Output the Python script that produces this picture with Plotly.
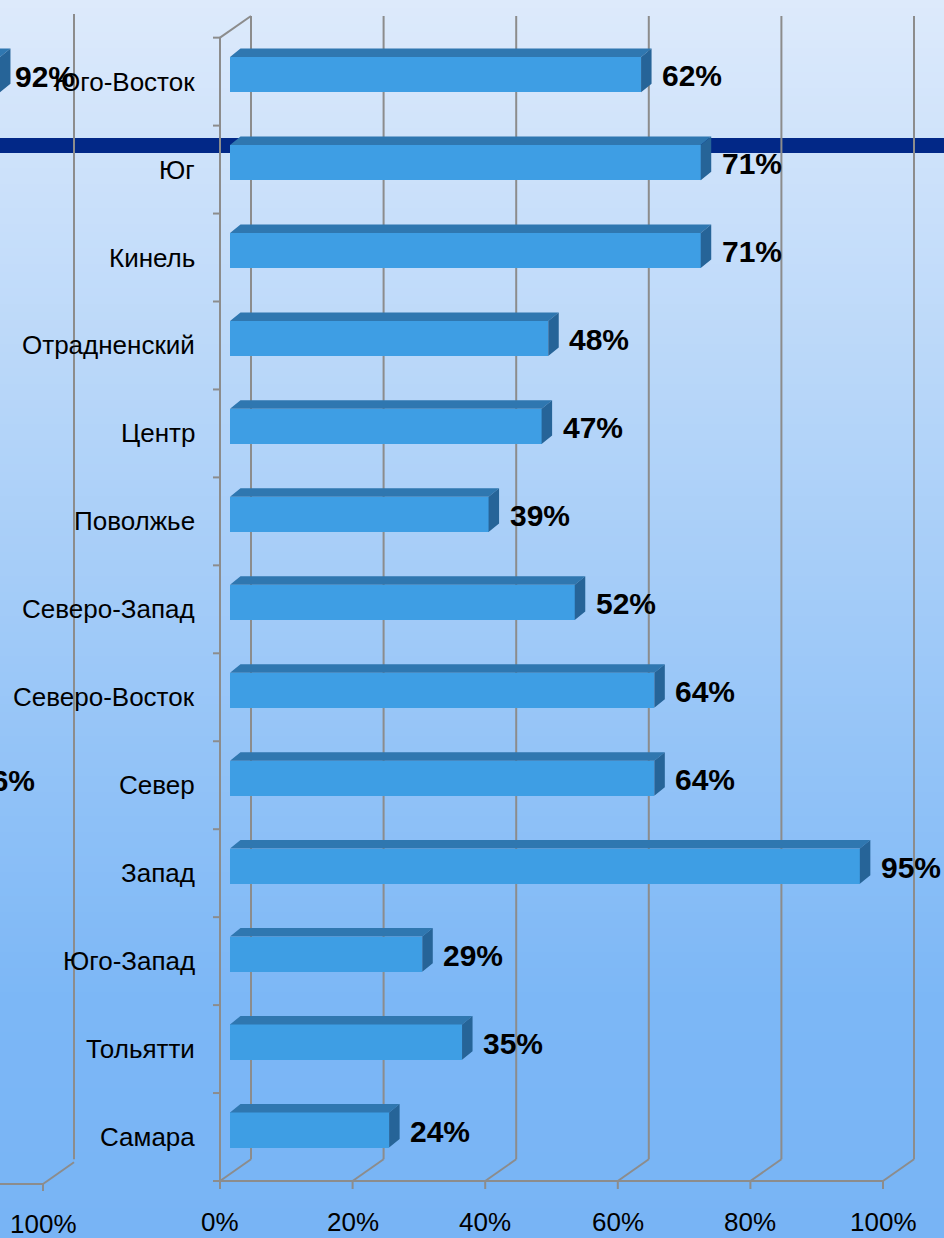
import plotly.graph_objects as go

# ---------------- data ----------------
categories = ["Юго-Восток", "Юг", "Кинель", "Отрадненский", "Центр", "Поволжье",
              "Северо-Запад", "Северо-Восток", "Север", "Запад", "Юго-Запад",
              "Тольятти", "Самара"]
values = [62, 71, 71, 48, 47, 39, 52, 64, 64, 95, 29, 35, 24]
tick_values = [0, 20, 40, 60, 80, 100]
tick_labels = ["0%", "20%", "40%", "60%", "80%", "100%"]

# neighbouring chart, only its right edge is visible at the left border
left_categories = ["Юго-Восток", "Север"]
left_values = [92, 86]
left_tick_values = [100]
left_tick_labels = ["100%"]

# ---------------- geometry / style ----------------
W, H = 944, 1238
PXX = 6.63          # pixels per percent
PXY = 87.95         # pixels per category slot
X0_PX = 230         # pixel of 0 % in the bar plane
FLOOR_PX = 1181     # pixel of the front floor line
n = len(categories)


def dx(px):
    return px / PXX


def dy(px):
    return px / PXY


FX = dx(-10)                    # front wall offset from bar plane
DX, DY = dx(31), dy(21.7)       # full depth of the 3D box
BAR_DY = dy(7)                  # bar front face shift due to depth
BDX, BDY = dx(10.5), dy(8.5)    # bar thickness
BAR_W = 0.4
LS = (43 - X0_PX) / PXX - 100 - FX   # shift of the neighbouring chart

GRID = "rgb(140,140,140)"
FRONT = "rgb(62,158,228)"
TOP = "rgb(47,119,176)"
SIDE = "rgb(38,100,152)"
FONT = "Liberation Sans, Arial, sans-serif"

xr = [-X0_PX / PXX, (W - X0_PX) / PXX]
yr = [(FLOOR_PX - H) / PXY - 0.5, FLOOR_PX / PXY - 0.5]

ypos = {c: n - 1 - i for i, c in enumerate(categories)}

fig = go.Figure()
shapes = []

# background gradient
stops = [(0, (221, 234, 251)), (1000, (124, 183, 246)), (H, (120, 180, 245))]


def bg(p):
    for (p0, c0), (p1, c1) in zip(stops[:-1], stops[1:]):
        if p0 <= p <= p1:
            t = (p - p0) / (p1 - p0)
            return "rgb(%d,%d,%d)" % tuple(round(a + (b - a) * t) for a, b in zip(c0, c1))
    return "rgb(%d,%d,%d)" % stops[-1][1]


step = 8
for p in range(0, H, step):
    shapes.append(dict(type="rect", xref="paper", yref="paper", x0=0, x1=1,
                       y0=1 - (p + step + 1) / H, y1=1 - p / H,
                       fillcolor=bg(p + step / 2), line=dict(width=0), layer="below"))

# dark stripe of the slide
shapes.append(dict(type="rect", xref="paper", yref="paper", x0=0, x1=1,
                   y0=1 - 153 / H, y1=1 - 138 / H, fillcolor="rgb(2,40,135)",
                   line=dict(width=0), layer="below"))


def line(x0, y0, x1, y1):
    shapes.append(dict(type="line", xref="x", yref="y", x0=x0, y0=y0, x1=x1, y1=y1,
                       line=dict(color=GRID, width=2), layer="below"))


ybot, ytop = -0.5, n - 0.5
# main chart walls
for t in tick_values:
    line(t + FX + DX, ybot + DY, t + FX + DX, ytop + DY)      # back wall lines
    line(t + FX, ybot, t + FX + DX, ybot + DY)                # floor diagonals
    line(t + FX, ybot, t + FX, ybot - dy(8))                  # bottom ticks
line(FX, ybot, 100 + FX, ybot)
line(FX, ybot, FX, ytop)
line(FX, ytop, FX + DX, ytop + DY)
for j in range(n + 1):
    line(FX - dx(7), ybot + j, FX, ybot + j)

# neighbouring chart walls
for t in left_tick_values:
    line(t + LS + FX + DX, ybot + DY, t + LS + FX + DX, ytop + DY + dy(2))
    line(t + LS + FX, ybot - dy(3), t + LS + FX + DX, ybot + DY - dy(3))
    line(t + LS + FX, ybot - dy(3), t + LS + FX, ybot - dy(10))
line(LS + FX, ybot - dy(3), 100 + LS + FX, ybot - dy(3))


def add_bars(cats, vals, base):
    ys = [ypos[c] + BAR_DY for c in cats]
    fig.add_trace(go.Bar(orientation="h", y=ys, x=vals, base=base, width=BAR_W,
                         marker=dict(color=FRONT, line=dict(width=0)),
                         hoverinfo="skip"))
    tx, ty, sx, sy = [], [], [], []
    for y, v in zip(ys, vals):
        yt, yb = y + BAR_W / 2, y - BAR_W / 2
        e = base + v
        tx += [base, e, e + BDX, base + BDX, base, None]
        ty += [yt, yt, yt + BDY, yt + BDY, yt, None]
        sx += [e, e, e + BDX, e + BDX, e, None]
        sy += [yb, yt, yt + BDY, yb + BDY, yb, None]
    fig.add_trace(go.Scatter(x=tx, y=ty, mode="lines", fill="toself", fillcolor=TOP,
                             line=dict(width=0, color=TOP), hoverinfo="skip"))
    fig.add_trace(go.Scatter(x=sx, y=sy, mode="lines", fill="toself", fillcolor=SIDE,
                             line=dict(width=0, color=SIDE), hoverinfo="skip"))


add_bars(categories, values, 0)
add_bars(left_categories, left_values, LS)

ann = []
for c, v in zip(categories, values):
    ann.append(dict(x=v + dx(19), y=ypos[c] + dy(6), text="%d%%" % v, xanchor="left",
                    yanchor="middle", showarrow=False,
                    font=dict(family=FONT, size=30, color="black", weight="bold")))
    ann.append(dict(x=FX - dx(23), y=ypos[c], text=c, xanchor="right", yanchor="middle",
                    showarrow=False, font=dict(family=FONT, size=26, color="black")))
# labels of the neighbouring chart may start left of the page, so they use paper x
for c, v in zip(left_categories, left_values):
    px = X0_PX + (v + LS) * PXX + 13
    ann.append(dict(xref="paper", x=px / W, y=ypos[c] + dy(5), text="%d%%" % v,
                    xanchor="left", yanchor="middle", showarrow=False,
                    font=dict(family=FONT, size=30, color="black", weight="bold")))
for t, lab in zip(tick_values, tick_labels):
    ann.append(dict(x=t + FX, y=ybot - dy(41), text=lab, xanchor="center", yanchor="middle",
                    showarrow=False, font=dict(family=FONT, size=26, color="black")))
for t, lab in zip(left_tick_values, left_tick_labels):
    ann.append(dict(x=t + LS + FX, y=ybot - dy(43), text=lab, xanchor="center",
                    yanchor="middle", showarrow=False,
                    font=dict(family=FONT, size=26, color="black")))

fig.update_layout(
    width=W, height=H, autosize=False,
    margin=dict(l=0, r=0, t=0, b=0, pad=0),
    paper_bgcolor="rgb(221,234,251)", plot_bgcolor="rgba(0,0,0,0)",
    showlegend=False, barmode="overlay", bargap=0,
    xaxis=dict(range=xr, visible=False, fixedrange=True),
    yaxis=dict(range=yr, visible=False, fixedrange=True),
    shapes=shapes, annotations=ann,
)

fig.write_html("out.html", config={"displayModeBar": False},
               post_script="document.body.style.margin='0';")
